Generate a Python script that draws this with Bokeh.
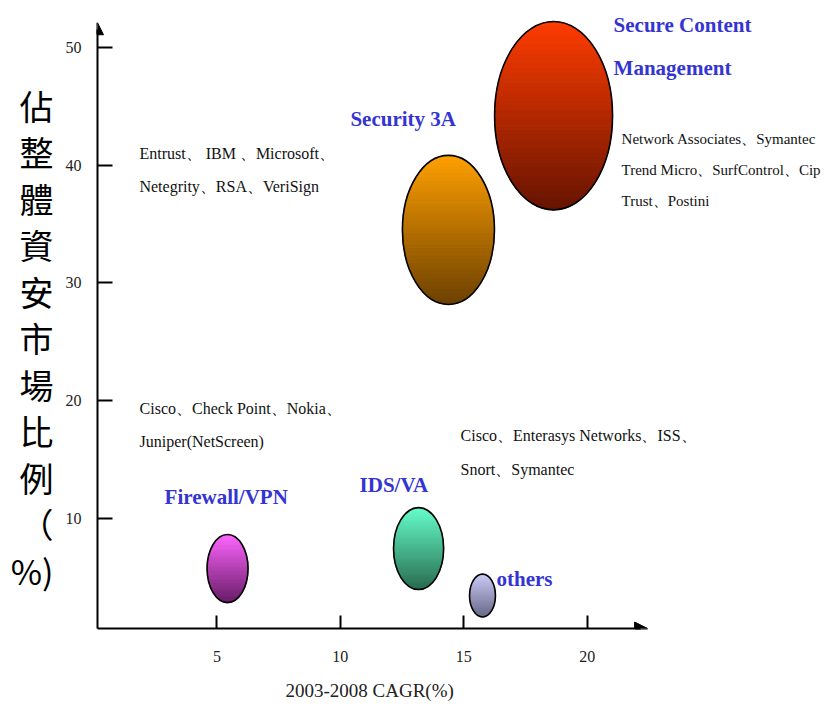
import numpy as np
from bokeh.plotting import figure
from bokeh.models import ColumnDataSource, FixedTicker, Arrow, NormalHead, Range1d, Title
from bokeh.core.properties import value
from bokeh.embed import file_html
from bokeh.resources import INLINE

# ---------------- data ----------------
segments = ["Firewall/VPN", "IDS/VA", "others", "Security 3A", "Secure  Content\nManagement"]
cagr = [5.43, 13.17, 15.76, 14.38, 18.64]          # 2003-2008 CAGR (%)
share = [5.73, 7.43, 3.44, 34.5, 44.2]             # share of security market (%)
bubble_w = [1.66, 2.03, 1.05, 3.73, 4.78]          # bubble extent along x (CAGR units)
bubble_h = [5.78, 6.97, 3.65, 12.66, 16.0]         # bubble extent along y (share units)
vendors = [
    "Cisco、Check Point、Nokia、\nJuniper(NetScreen)",
    "Cisco、Enterasys Networks、ISS、\nSnort、Symantec",
    "",
    "Entrust、 IBM 、Microsoft、\nNetegrity、RSA、VeriSign",
    "Network Associates、Symantec\nTrend Micro、SurfControl、Cip\nTrust、Postini",
]
x_ticks = [5, 10, 15, 20]
y_ticks = [10, 20, 30, 40, 50]
x_title = "2003-2008 CAGR(%)"
y_title = "\u3000\n佔\n整\n體\n資\n安\n市\n場\n比\n例\n（\n%)"

# ---------------- styles ----------------
top_colors = ["#ff66ff", "#66ffcc", "#ccccf8", "#ffa000", "#ff3c00"]
bottom_colors = ["#681c68", "#286c50", "#686888", "#6c4000", "#661400"]
label_dx = [-63, -59, 14, -98, 60]
label_dy = [-72, -64, -17, -111, -69]
vendor_dx = [-88, 42, 0, -309, 68]
vendor_dy = [-144, -96, 0, -60, 54]
vendor_size = ["16px", "16px", "16px", "16px", "15px"]

X0, X1 = 0.16, 29.78
Y0, Y1 = 0.64, 53.99
X_TIP, Y_TIP = 22.45, 52.1

SERIF = "Liberation Serif"

p = figure(width=828, height=715, output_backend="svg", toolbar_location=None,
           x_range=Range1d(X0, X1), y_range=Range1d(Y0, Y1), title=None,
           min_border_left=97, min_border_bottom=87, min_border_top=0, min_border_right=0)
p.outline_line_color = None
p.grid.visible = False
p.background_fill_color = "white"
p.border_fill_color = "white"


def hex2rgb(h):
    return np.array([int(h[i:i + 2], 16) for i in (1, 3, 5)], dtype=float)


def rgb2hex(c):
    return "#%02x%02x%02x" % tuple(int(round(v)) for v in c)


# gradient-filled bubbles built from horizontal bands of each ellipse
bx, by, bc = [], [], []
n_bands, m_pts = 40, 5
for cx, cy, w, h, ct, cb in zip(cagr, share, bubble_w, bubble_h, top_colors, bottom_colors):
    a, b = w / 2.0, h / 2.0
    t_rgb, b_rgb = hex2rgb(ct), hex2rgb(cb)
    for i in range(n_bands):
        t0, t1 = i / n_bands, (i + 1) / n_bands
        yy = np.linspace(cy + b - h * t0, cy + b - h * t1, m_pts)
        half = a * np.sqrt(np.clip(1 - ((yy - cy) / b) ** 2, 0, 1))
        bx.append(list(cx + half) + list(cx - half[::-1]))
        by.append(list(yy) + list(yy[::-1]))
        bc.append(rgb2hex(t_rgb + (b_rgb - t_rgb) * (t0 + t1) / 2))

p.patches(xs="xs", ys="ys", source=ColumnDataSource(dict(xs=bx, ys=by, c=bc)),
          fill_color="c", line_color="c", line_width=1)

src = ColumnDataSource(dict(x=cagr, y=share, w=bubble_w, h=bubble_h, seg=segments,
                            ven=vendors, ldx=label_dx, ldy=label_dy, vdx=vendor_dx,
                            vdy=vendor_dy, vfs=vendor_size))
p.ellipse(x="x", y="y", width="w", height="h", source=src, fill_color=None,
          line_color="black", line_width=1.6)

p.text(x="x", y="y", text="seg", x_offset="ldx", y_offset="ldy", source=src,
       text_font=value(SERIF), text_font_size="21px", text_font_style="bold",
       text_color="#3434d2", text_align="left", text_baseline="middle", text_line_height=1.8)

p.text(x="x", y="y", text="ven", x_offset="vdx", y_offset="vdy", source=src,
       text_font=value(SERIF), text_font_size="vfs", text_color="#111111",
       text_align="left", text_baseline="middle", text_line_height=1.95)

# axes
for ax in (p.xaxis, p.yaxis):
    ax.axis_line_width = 2
    ax.axis_line_color = "black"
    ax.major_tick_line_width = 2
    ax.major_tick_line_color = "black"
    ax.major_tick_out = 0
    ax.minor_tick_line_color = None
    ax.major_label_text_font = SERIF
    ax.major_label_text_font_size = "16px"
    ax.major_label_text_color = "#222222"

p.xaxis.ticker = FixedTicker(ticks=x_ticks)
p.yaxis.ticker = FixedTicker(ticks=y_ticks)
p.xaxis.major_tick_in = 13
p.yaxis.major_tick_in = 15
p.xaxis.bounds = (X0, X_TIP - 0.3)
p.yaxis.bounds = (Y0, Y_TIP - 0.6)
p.xaxis.major_label_standoff = 22
p.yaxis.major_label_standoff = 16

p.yaxis.axis_label = y_title
p.yaxis.axis_label_orientation = "horizontal"
p.yaxis.axis_label_text_font = "Noto Sans CJK TC"
p.yaxis.axis_label_text_font_size = "34px"
p.yaxis.axis_label_text_font_style = "normal"
p.yaxis.axis_label_text_color = "black"
p.yaxis.axis_label_text_line_height = 0.95
p.yaxis.axis_label_standoff = 9

p.add_layout(Title(text=x_title, align="left", offset=188, text_font=SERIF,
                   text_font_size="19px", text_font_style="normal",
                   text_color="#222222", standoff=26), "below")

p.add_layout(Arrow(end=NormalHead(size=13, fill_color="black", line_color="black"),
                   x_start=X_TIP - 0.5, y_start=Y0, x_end=X_TIP, y_end=Y0,
                   line_width=2, line_color="black"))
p.add_layout(Arrow(end=NormalHead(size=12, fill_color="black", line_color="black"),
                   x_start=X0, y_start=Y_TIP - 1.0, x_end=X0, y_end=Y_TIP,
                   line_width=2, line_color="black"))

open("out.html", "w").write(file_html(p, INLINE))
